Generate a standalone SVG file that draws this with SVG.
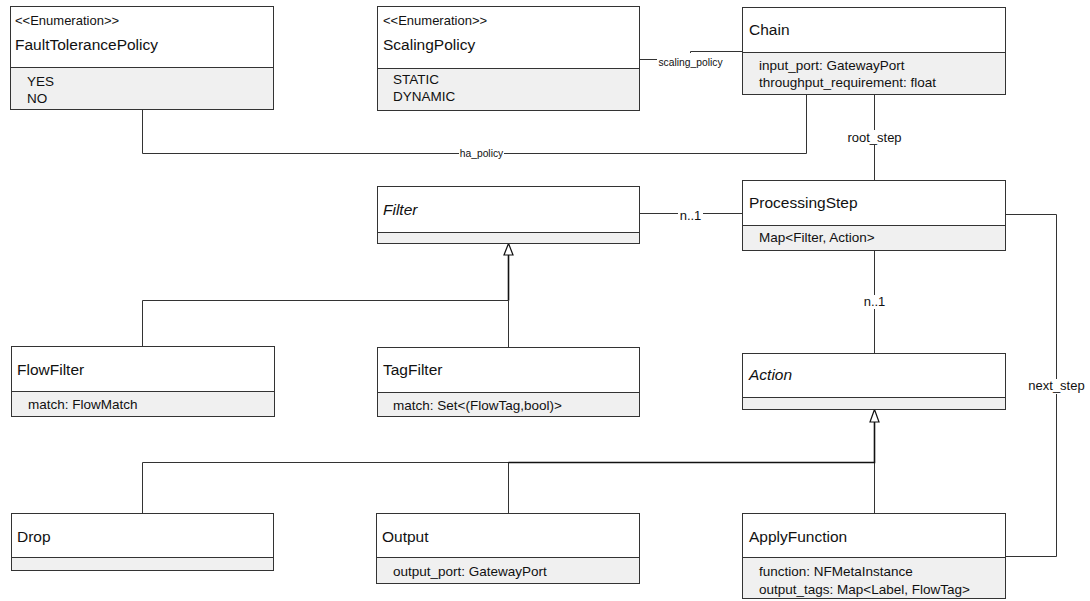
<svg xmlns="http://www.w3.org/2000/svg" width="1090" height="601" viewBox="0 0 1090 601">
  <style>
    .box { fill: #ffffff; stroke: #333333; stroke-width: 1; }
    .comp { fill: #f0f0f0; stroke: #333333; stroke-width: 1; }
    .title { font-family: "Liberation Sans", Arial, sans-serif; font-size: 15.5px; fill: #111111; }
    .abstract { font-style: italic; }
    .stereo { font-family: "Liberation Sans", Arial, sans-serif; font-size: 13px; fill: #111111; }
    .attr { font-family: "Liberation Sans", Arial, sans-serif; font-size: 13.5px; fill: #111111; }
    .link { fill: none; stroke: #333333; stroke-width: 1; }
    .trunk { fill: none; stroke: #111111; stroke-width: 1.6; }
    .lbl { font-family: "Liberation Sans", Arial, sans-serif; font-size: 13px; fill: #111111; text-anchor: middle; }
    .lbl-sm { font-family: "Liberation Sans", Arial, sans-serif; font-size: 10.3px; fill: #111111; text-anchor: middle; }
    .lblbg { fill: #ffffff; stroke: none; }
    .gen { fill: #ffffff; stroke: #111111; stroke-width: 1.2; }
  </style>

  <rect width="1090" height="601" fill="#ffffff"/>

  <!-- connectors -->
  <g id="connectors">
    <!-- Chain.scaling_policy -->
    <path class="link" d="M639.5,59.5 H690.5 V51.5 H742.5"/>
    <rect class="lblbg" x="657" y="53" width="67" height="17"/>
    <text class="lbl-sm" x="690.5" y="66">scaling_policy</text>

    <!-- Chain.ha_policy -->
    <path class="link" d="M806.5,94.5 V153.5 H142.5 V109.5"/>
    <rect class="lblbg" x="459" y="147" width="45" height="13"/>
    <text class="lbl-sm" x="481.5" y="157">ha_policy</text>

    <!-- Chain.root_step -->
    <path class="link" d="M874.5,94.5 V180.5"/>
    <rect class="lblbg" x="845" y="130" width="59" height="15"/>
    <text class="lbl" x="874.5" y="142">root_step</text>

    <!-- ProcessingStep to Filter -->
    <path class="link" d="M639.5,213.5 H742.5"/>
    <rect class="lblbg" x="678" y="209" width="25" height="14"/>
    <text class="lbl" x="690.5" y="220">n..1</text>

    <!-- ProcessingStep to Action -->
    <path class="link" d="M874.5,250.5 V353.5"/>
    <rect class="lblbg" x="862" y="295" width="25" height="14"/>
    <text class="lbl" x="874.5" y="306">n..1</text>

    <!-- ApplyFunction.next_step -->
    <path class="link" d="M1005.5,214.5 H1056.5 V556.5 H1005.5"/>
    <rect class="lblbg" x="1027" y="379" width="59" height="15"/>
    <text class="lbl" x="1056.5" y="390">next_step</text>

    <!-- Filter generalization -->
    <path class="link" d="M142.5,346.5 V300.5 H508.5"/>
    <path class="link" d="M508.5,347.5 V300.5"/>
    <path class="trunk" d="M508.5,300.5 V255"/>
    <polygon class="gen" points="508.5,243.5 504,255 513,255"/>

    <!-- Action generalization -->
    <path class="link" d="M142.5,513.5 V462.5 H874.5"/>
    <path class="link" d="M508.5,513.5 V462.5"/>
    <path class="link" d="M874.5,513.5 V462.5"/>
    <path class="trunk" d="M508.5,462.5 H874.5 V422"/>
    <polygon class="gen" points="874.5,409.5 870,422 879,422"/>
  </g>

  <!-- FaultTolerancePolicy -->
  <g id="FaultTolerancePolicy">
    <rect class="box" x="10.5" y="6.5" width="263" height="61"/>
    <rect class="comp" x="10.5" y="67.5" width="263" height="42"/>
    <text class="stereo" x="15" y="25">&lt;&lt;Enumeration&gt;&gt;</text>
    <text class="title" x="15" y="50">FaultTolerancePolicy</text>
    <text class="attr" x="27" y="86">YES</text>
    <text class="attr" x="27" y="103">NO</text>
  </g>

  <!-- ScalingPolicy -->
  <g id="ScalingPolicy">
    <rect class="box" x="377.5" y="6.5" width="262" height="62"/>
    <rect class="comp" x="377.5" y="68.5" width="262" height="42"/>
    <text class="stereo" x="383" y="25">&lt;&lt;Enumeration&gt;&gt;</text>
    <text class="title" x="383" y="50">ScalingPolicy</text>
    <text class="attr" x="393" y="84">STATIC</text>
    <text class="attr" x="393" y="101">DYNAMIC</text>
  </g>

  <!-- Chain -->
  <g id="Chain">
    <rect class="box" x="742.5" y="7.5" width="263" height="45"/>
    <rect class="comp" x="742.5" y="52.5" width="263" height="42"/>
    <text class="title" x="749" y="35">Chain</text>
    <text class="attr" x="759" y="70">input_port: GatewayPort</text>
    <text class="attr" x="759" y="87">throughput_requirement: float</text>
  </g>

  <!-- Filter -->
  <g id="Filter">
    <rect class="box" x="377.5" y="186.5" width="262" height="46"/>
    <rect class="comp" x="377.5" y="232.5" width="262" height="11"/>
    <text class="title abstract" x="383" y="215">Filter</text>
  </g>

  <!-- ProcessingStep -->
  <g id="ProcessingStep">
    <rect class="box" x="742.5" y="180.5" width="263" height="45"/>
    <rect class="comp" x="742.5" y="225.5" width="263" height="25"/>
    <text class="title" x="749" y="208">ProcessingStep</text>
    <text class="attr" x="759" y="242">Map&lt;Filter, Action&gt;</text>
  </g>

  <!-- FlowFilter -->
  <g id="FlowFilter">
    <rect class="box" x="11.5" y="346.5" width="263" height="45"/>
    <rect class="comp" x="11.5" y="391.5" width="263" height="25"/>
    <text class="title" x="17" y="375">FlowFilter</text>
    <text class="attr" x="28" y="409">match: FlowMatch</text>
  </g>

  <!-- TagFilter -->
  <g id="TagFilter">
    <rect class="box" x="377.5" y="347.5" width="262" height="45"/>
    <rect class="comp" x="377.5" y="392.5" width="262" height="24"/>
    <text class="title" x="383" y="375">TagFilter</text>
    <text class="attr" x="393" y="410">match: Set&lt;(FlowTag,bool)&gt;</text>
  </g>

  <!-- Action -->
  <g id="Action">
    <rect class="box" x="742.5" y="353.5" width="263" height="44"/>
    <rect class="comp" x="742.5" y="397.5" width="263" height="12"/>
    <text class="title abstract" x="749" y="380">Action</text>
  </g>

  <!-- Drop -->
  <g id="Drop">
    <rect class="box" x="11.5" y="513.5" width="262" height="44"/>
    <rect class="comp" x="11.5" y="557.5" width="262" height="13"/>
    <text class="title" x="17" y="542">Drop</text>
  </g>

  <!-- Output -->
  <g id="Output">
    <rect class="box" x="376.5" y="513.5" width="263" height="44"/>
    <rect class="comp" x="376.5" y="557.5" width="263" height="26"/>
    <text class="title" x="382" y="542">Output</text>
    <text class="attr" x="393" y="576">output_port: GatewayPort</text>
  </g>

  <!-- ApplyFunction -->
  <g id="ApplyFunction">
    <rect class="box" x="742.5" y="513.5" width="263" height="44"/>
    <rect class="comp" x="742.5" y="557.5" width="263" height="41"/>
    <text class="title" x="749" y="542">ApplyFunction</text>
    <text class="attr" x="759" y="576">function: NFMetaInstance</text>
    <text class="attr" x="759" y="594">output_tags: Map&lt;Label, FlowTag&gt;</text>
  </g>
</svg>
